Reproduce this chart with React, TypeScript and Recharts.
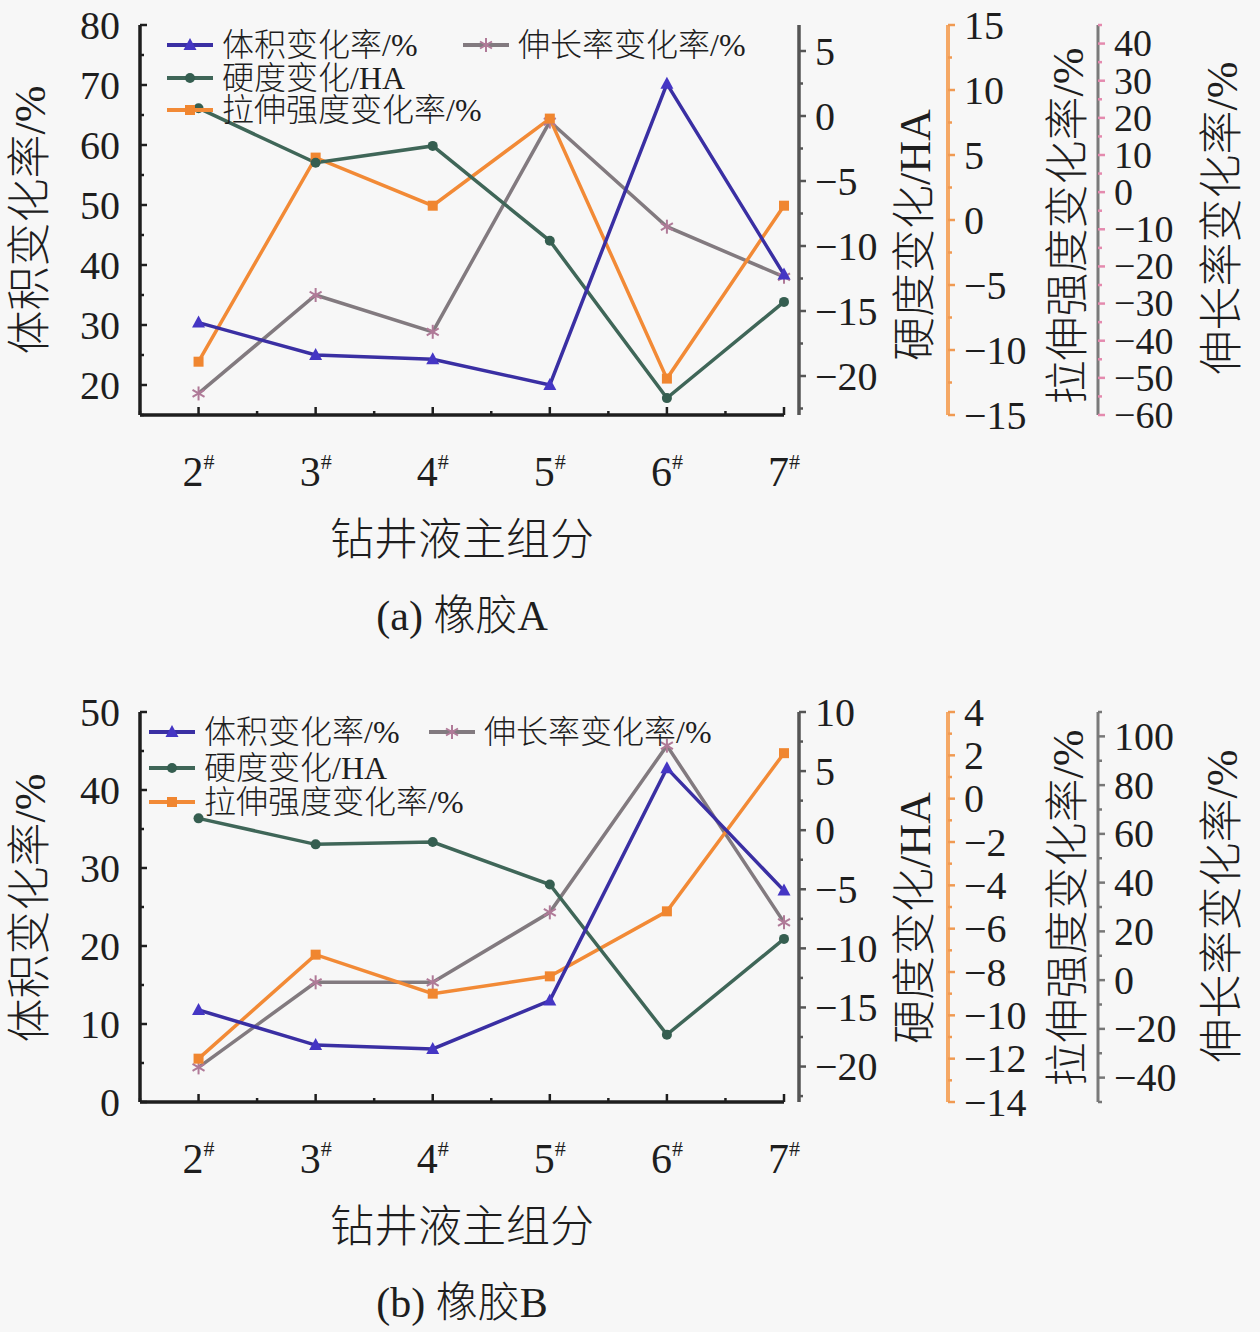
import React from 'react';
import { LineChart, Line, XAxis, YAxis, Legend } from 'recharts';

const FONT = '"Liberation Serif", "Noto Sans CJK SC", serif';
const FW = 300;
const INK = '#1e1e1e';
const BG = '#f7f7f7';

// categories: drilling-fluid main component sample numbers (labelled "n#")
const samples = [2, 3, 4, 5, 6, 7];
const xTicks = [1.5, 2, 2.5, 3, 3.5, 4, 4.5, 5, 5.5, 6, 6.5, 7];

// (a) rubber A
const volumeA = [30.4, 25.0, 24.3, 20.0, 70.2, 38.4];
const hardnessA = [0.6, -3.6, -2.3, -9.6, -21.7, -14.3];
const tensileA = [-10.9, 4.8, 1.1, 7.8, -12.2, 1.1];
const elongationA = [-54.2, -27.7, -37.6, 19.0, -9.3, -22.8];

// (b) rubber B
const volumeB = [11.8, 7.3, 6.8, 13.0, 42.8, 27.1];
const hardnessB = [1.0, -1.2, -1.0, -4.6, -17.3, -9.2];
const tensileB = [-12.0, -7.2, -9.0, -8.2, -5.2, 2.1];
const elongationB = [-35.8, -0.9, -0.9, 27.8, 96.2, 23.7];

// tick labels
const volTicksA = [20, 30, 40, 50, 60, 70, 80];
const hardTicksA = [-20, -15, -10, -5, 0, 5];
const tenTicksA = [-15, -10, -5, 0, 5, 10, 15];
const eloTicksA = [-60, -50, -40, -30, -20, -10, 0, 10, 20, 30, 40];

const volTicksB = [0, 10, 20, 30, 40, 50];
const hardTicksB = [-20, -15, -10, -5, 0, 5, 10];
const tenTicksB = [-14, -12, -10, -8, -6, -4, -2, 0, 2, 4];
const eloTicksB = [-40, -20, 0, 20, 40, 60, 80, 100];

const NAMES: Record<string, string> = {
  vol: '体积变化率/%',
  hard: '硬度变化/HA',
  ten: '拉伸强度变化率/%',
  elo: '伸长率变化率/%',
};
const COLORS: Record<string, string> = {
  vol: '#3a2fa3',
  hard: '#3f6658',
  ten: '#f28a36',
  elo: '#827a7f',
};
const MARKER_COLORS: Record<string, string> = {
  vol: '#4536c4',
  hard: '#355e50',
  ten: '#f08630',
  elo: '#b07a98',
};
const KINDS: Record<string, string> = { vol: 'tri', hard: 'circ', ten: 'sq', elo: 'star' };
// axis ids (alphabetical order = stacking order of the right-hand axes)
const AXIS_ID: Record<string, string> = { vol: 'l0vol', sp: 'r1sp', hard: 'r2hard', ten: 'r3ten', elo: 'r4elo' };

function buildRows(vol: number[], hard: number[], ten: number[], elo: number[]) {
  return samples.map((s, i) => ({ s, vol: vol[i], hard: hard[i], ten: ten[i], elo: elo[i] }));
}

function allTicks(domain: [number, number], step: number) {
  const out: number[] = [];
  const k0 = Math.ceil(domain[0] / step - 1e-9);
  const k1 = Math.floor(domain[1] / step + 1e-9);
  for (let k = k0; k <= k1; k++) out.push(Math.round(k * step * 1000) / 1000);
  return out;
}

const fmt = (v: number) => (v < 0 ? '\u2212' + Math.abs(v) : String(v));

function Marker({ kind, cx, cy, color }: any) {
  if (cx == null || cy == null) return null;
  if (kind === 'tri')
    return <polygon points={`${cx},${cy - 7} ${cx - 6.5},${cy + 5} ${cx + 6.5},${cy + 5}`} fill={color} />;
  if (kind === 'circ') return <circle cx={cx} cy={cy} r={5} fill={color} />;
  if (kind === 'sq') return <rect x={cx - 5} y={cy - 5} width={10} height={10} fill={color} />;
  return (
    <g stroke={color} strokeWidth={2}>
      <line x1={cx} y1={cy - 7} x2={cx} y2={cy + 7} />
      <line x1={cx - 6} y1={cy - 3.5} x2={cx + 6} y2={cy + 3.5} />
      <line x1={cx - 6} y1={cy + 3.5} x2={cx + 6} y2={cy - 3.5} />
    </g>
  );
}

function YTick(props: any) {
  const { x, y, payload, side, majors, tickColor, gap, fontSize } = props;
  const v = payload.value;
  const major = majors.some((m: number) => Math.abs(m - v) < 1e-6);
  const len = major ? 7 : 4;
  return (
    <g>
      <line x1={x} x2={x + len} y1={y} y2={y} stroke={tickColor} strokeWidth={2.5} />
      {major && (
        <text
          x={side === 'left' ? x - gap : x + gap}
          y={y}
          dy="0.34em"
          textAnchor={side === 'left' ? 'end' : 'start'}
          fontSize={fontSize || 40}
          fontFamily={FONT}
          fontWeight={FW}
          fill={INK}
        >
          {fmt(v)}
        </text>
      )}
    </g>
  );
}

function XTick(props: any) {
  const { x, y, payload } = props;
  const v = payload.value;
  const major = Math.abs(v - Math.round(v)) < 1e-6 && v >= 2;
  return (
    <g>
      <line x1={x} x2={x} y1={y} y2={y - (major ? 8 : 4)} stroke={INK} strokeWidth={2.5} />
      {major && (
        <text x={x} y={y + 71} textAnchor="middle" fontSize={42} fontFamily={FONT} fontWeight={FW} fill={INK}>
          <tspan>{v}</tspan>
          <tspan fontSize={22} dy={-17}>#</tspan>
        </text>
      )}
    </g>
  );
}

function yLabel(text: string, dx: number, dy: number) {
  return (p: any) => {
    const vb = p.viewBox || {};
    const cx = vb.x + dx;
    const cy = vb.y + vb.height / 2 + dy;
    return (
      <text
        x={cx}
        y={cy}
        transform={`rotate(-90 ${cx} ${cy})`}
        textAnchor="middle"
        dominantBaseline="central"
        fontSize={44}
        fontFamily={FONT}
        fontWeight={FW}
        fill={INK}
      >
        {text}
      </text>
    );
  };
}

function xLabel(caption: string) {
  return (p: any) => {
    const vb = p.viewBox || {};
    const cx = vb.x + vb.width / 2;
    return (
      <g>
        <text x={cx} y={vb.y + 125} textAnchor="middle" dominantBaseline="central" fontSize={44} fontFamily={FONT} fontWeight={FW} fill={INK}>
          钻井液主组分
        </text>
        <text x={cx} y={vb.y + 201} textAnchor="middle" dominantBaseline="central" fontSize={42} fontFamily={FONT} fontWeight={FW} fill={INK}>
          {caption}
        </text>
      </g>
    );
  };
}

function makeLegend(items: { key: string; x: number; y: number }[]) {
  return () => (
    <svg width={760} height={140} style={{ position: 'absolute', left: 0, top: 0, overflow: 'visible' }}>
      {items.map((it) => (
        <g key={it.key}>
          <line x1={it.x} x2={it.x + 46} y1={it.y} y2={it.y} stroke={COLORS[it.key]} strokeWidth={4} />
          <Marker kind={KINDS[it.key]} cx={it.x + 23} cy={it.y} color={MARKER_COLORS[it.key]} />
          <text x={it.x + 55} y={it.y} dominantBaseline="central" fontSize={32} fontFamily={FONT} fontWeight={FW} fill={INK}>
            {NAMES[it.key]}
          </text>
        </g>
      ))}
    </svg>
  );
}

type AxisSpec = { domain: [number, number]; majors: number[]; minor: number };

function Panel(props: {
  top: number;
  rows: any[];
  vol: AxisSpec;
  hard: AxisSpec;
  ten: AxisSpec;
  elo: AxisSpec;
  eloTickColor: string;
  eloFont: number;
  legend: { key: string; x: number; y: number }[];
  caption: string;
  labelDy: { vol: number; hard: number; ten: number; elo: number };
}) {
  const { top, rows, vol, hard, ten, elo, legend, caption, labelDy } = props;
  const yCommon = { tickLine: false, tickSize: 0, tickMargin: 0, interval: 0 as const, allowDataOverflow: true };
  const keys = ['elo', 'ten', 'hard', 'vol'];
  return (
    <div style={{ position: 'absolute', left: 0, top, width: 1260, height: 660 }}>
      <LineChart width={1260} height={660} data={rows} margin={{ top: 25, right: 0, bottom: 0, left: 0 }}>
        <XAxis
          dataKey="s"
          type="number"
          domain={[1.5, 7]}
          ticks={xTicks}
          interval={0}
          tick={<XTick />}
          tickLine={false}
          tickSize={0}
          tickMargin={0}
          height={245}
          axisLine={{ stroke: INK, strokeWidth: 3.5 }}
          label={xLabel(caption)}
        />
        <YAxis
          yAxisId={AXIS_ID.vol}
          orientation="left"
          width={140}
          type="number"
          domain={vol.domain}
          ticks={allTicks(vol.domain, vol.minor)}
          tick={<YTick side="left" majors={vol.majors} tickColor={INK} gap={20} />}
          axisLine={{ stroke: INK, strokeWidth: 3.5 }}
          label={yLabel(NAMES.vol, 30, labelDy.vol)}
          {...yCommon}
        />
        <YAxis yAxisId={AXIS_ID.sp} orientation="right" width={15} domain={[0, 1]} tick={false} axisLine={false} tickLine={false} />
        <YAxis
          yAxisId={AXIS_ID.hard}
          orientation="right"
          width={149}
          type="number"
          domain={hard.domain}
          ticks={allTicks(hard.domain, hard.minor)}
          tick={<YTick side="right" majors={hard.majors} tickColor="#555" gap={16} />}
          axisLine={{ stroke: '#555', strokeWidth: 3.5 }}
          label={yLabel(NAMES.hard, 116, labelDy.hard)}
          {...yCommon}
        />
        <YAxis
          yAxisId={AXIS_ID.ten}
          orientation="right"
          width={150}
          type="number"
          domain={ten.domain}
          ticks={allTicks(ten.domain, ten.minor)}
          tick={<YTick side="right" majors={ten.majors} tickColor="#f09a52" gap={16} />}
          axisLine={{ stroke: '#f5a865', strokeWidth: 4 }}
          label={yLabel(NAMES.ten, 120, labelDy.ten)}
          {...yCommon}
        />
        <YAxis
          yAxisId={AXIS_ID.elo}
          orientation="right"
          width={162}
          type="number"
          domain={elo.domain}
          ticks={allTicks(elo.domain, elo.minor)}
          tick={<YTick side="right" majors={elo.majors} tickColor={props.eloTickColor} gap={16} fontSize={props.eloFont} />}
          axisLine={{ stroke: '#7a7a7a', strokeWidth: 3 }}
          label={yLabel(NAMES.elo, 124, labelDy.elo)}
          {...yCommon}
        />
        <Legend
          content={makeLegend(legend)}
          wrapperStyle={{ position: 'absolute', left: 0, top: 0, width: 0, height: 0, overflow: 'visible' }}
        />
        {keys.map((k) => (
          <Line
            key={k}
            yAxisId={AXIS_ID[k]}
            dataKey={k}
            name={NAMES[k]}
            stroke={COLORS[k]}
            strokeWidth={3.5}
            isAnimationActive={false}
            activeDot={false}
            dot={(p: any) => <Marker key={`${k}-${p.index}`} kind={KINDS[k]} cx={p.cx} cy={p.cy} color={MARKER_COLORS[k]} />}
          />
        ))}
      </LineChart>
    </div>
  );
}

export default function App() {
  const rowsA = buildRows(volumeA, hardnessA, tensileA, elongationA);
  const rowsB = buildRows(volumeB, hardnessB, tensileB, elongationB);
  return (
    <div style={{ position: 'absolute', left: 0, top: 0, width: 1260, height: 1332, background: BG, overflow: 'hidden' }}>
      <Panel
        top={0}
        rows={rowsA}
        vol={{ domain: [15, 80], majors: volTicksA, minor: 5 }}
        hard={{ domain: [-23, 7], majors: hardTicksA, minor: 2.5 }}
        ten={{ domain: [-15, 15], majors: tenTicksA, minor: 2.5 }}
        elo={{ domain: [-60, 45], majors: eloTicksA, minor: 5 }}
        eloTickColor="#e48aae"
        eloFont={38}
        legend={[
          { key: 'vol', x: 167, y: 45 },
          { key: 'elo', x: 463, y: 45 },
          { key: 'hard', x: 167, y: 78 },
          { key: 'ten', x: 167, y: 110 },
        ]}
        caption="(a) 橡胶A"
        labelDy={{ vol: 0, hard: 15, ten: 6, elo: -2 }}
      />
      <Panel
        top={687}
        rows={rowsB}
        vol={{ domain: [0, 50], majors: volTicksB, minor: 5 }}
        hard={{ domain: [-23, 10], majors: hardTicksB, minor: 2.5 }}
        ten={{ domain: [-14, 4], majors: tenTicksB, minor: 1 }}
        elo={{ domain: [-50, 110], majors: eloTicksB, minor: 10 }}
        eloTickColor="#777"
        eloFont={40}
        legend={[
          { key: 'vol', x: 149, y: 45 },
          { key: 'elo', x: 429, y: 45 },
          { key: 'hard', x: 149, y: 81 },
          { key: 'ten', x: 149, y: 115 },
        ]}
        caption="(b) 橡胶B"
        labelDy={{ vol: 1, hard: 11, ten: 1, elo: -1 }}
      />
    </div>
  );
}
